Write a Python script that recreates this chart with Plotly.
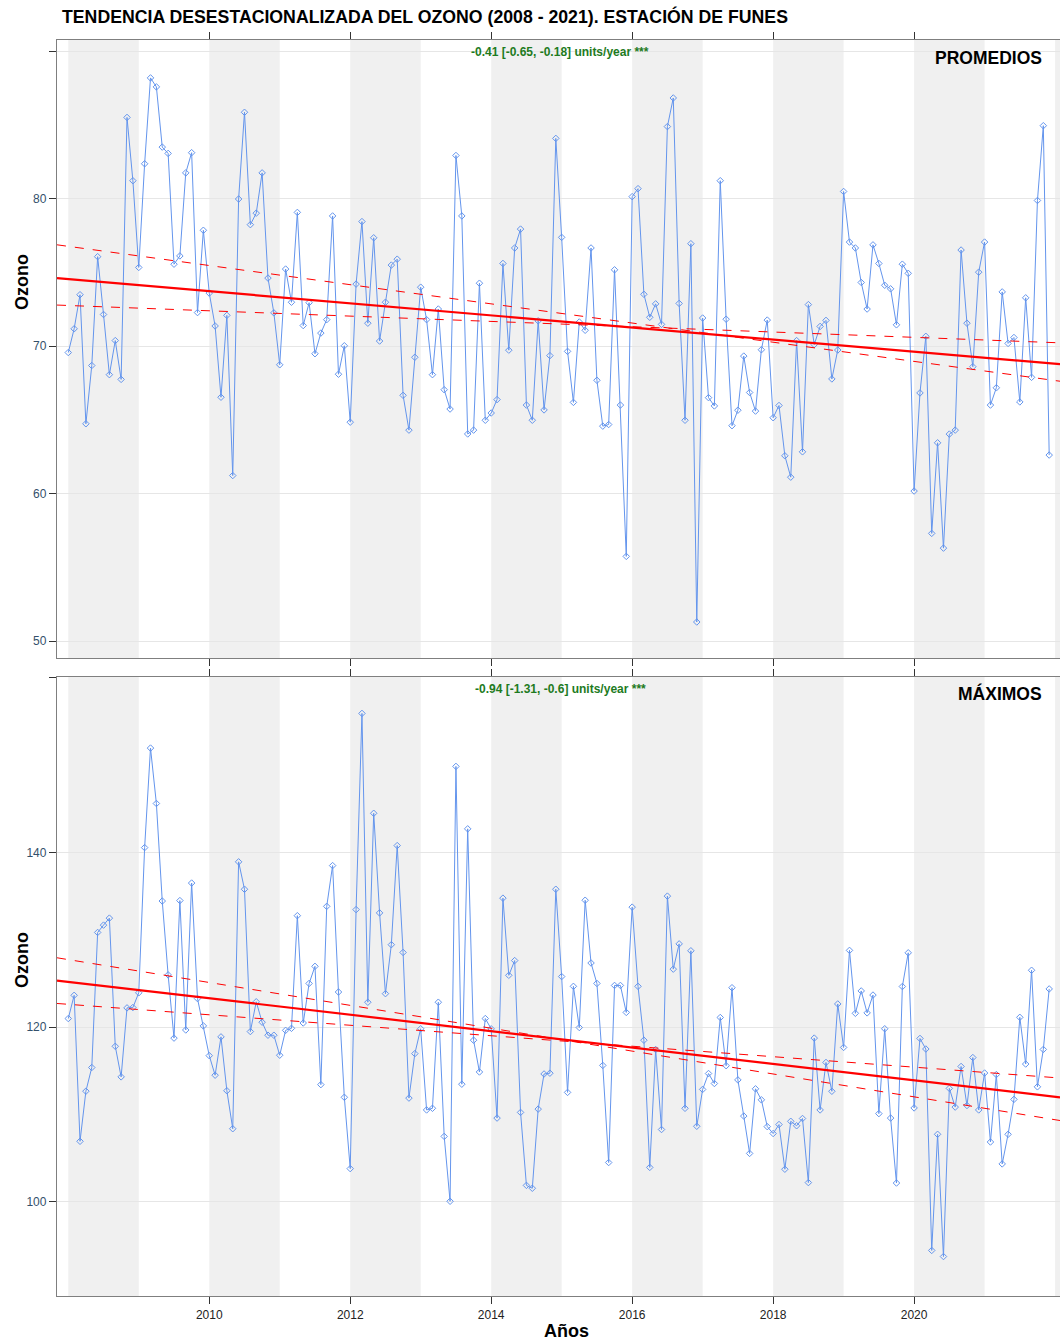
import plotly.graph_objects as go

# ---------------- data ----------------
start_year = 2008
promedios = [
    69.56, 71.17, 73.48, 64.73, 68.68, 76.06, 72.14, 68.06, 70.37, 67.74, 85.5, 81.21,
    75.33, 82.36, 88.18, 87.57, 83.49, 83.06, 75.55, 76.11, 81.74, 83.11, 72.27, 77.85,
    73.59, 71.36, 66.53, 72.08, 61.22, 79.97, 85.85, 78.23, 79.01, 81.74, 74.61, 72.25,
    68.73, 75.22, 72.97, 79.06, 71.39, 72.94, 69.48, 70.88, 71.79, 78.82, 68.09, 70.02,
    64.84, 74.2, 78.44, 71.55, 77.34, 70.34, 72.97, 75.49, 75.89, 66.66, 64.30, 69.24,
    73.99, 71.79, 68.06, 72.51, 67.04, 65.73, 82.92, 78.82, 64.04, 64.30, 74.26, 64.97,
    65.46, 66.37, 75.6, 69.72, 76.65, 77.93, 66.0, 64.97, 71.71, 65.67, 69.35, 84.08,
    77.37, 69.64, 66.18, 71.63, 71.07, 76.65, 67.68, 64.57, 64.68, 75.17, 66.0, 55.74,
    80.13, 80.67, 73.51, 71.95, 72.86, 71.47, 84.88, 86.82, 72.89, 64.97, 76.94, 51.29,
    71.9, 66.5, 65.94, 81.21, 71.82, 64.6, 65.65, 69.32, 66.85, 65.59, 69.75, 71.76,
    65.14, 65.97, 62.56, 61.11, 70.37, 62.83, 72.81, 70.1, 71.33, 71.74, 67.77, 69.73,
    80.48, 77.05, 76.65, 74.31, 72.51, 76.86, 75.6, 74.12, 73.88, 71.44, 75.55, 74.93,
    60.17, 66.82, 70.66, 57.3, 63.44, 56.3, 64.03, 64.3, 76.51, 71.55, 68.6, 75.01,
    77.05, 66.0, 67.17, 73.67, 70.18, 70.58, 66.21, 73.27, 67.88, 79.87, 84.94, 62.61,
]
maximos = [
    120.98, 123.64, 106.92, 112.66, 115.37, 130.84, 131.68, 132.48, 117.8, 114.3, 122.2, 122.24,
    123.93, 140.56, 151.96, 145.61, 134.44, 125.98, 118.74, 134.49, 119.67, 136.5, 123.27, 120.14,
    116.73, 114.49, 118.88, 112.71, 108.36, 138.93, 135.79, 119.49, 122.9, 120.56, 119.07, 119.07,
    116.78, 119.63, 119.86, 132.76, 120.47, 125.0, 126.96, 113.41, 133.83, 138.5, 124.02, 111.96,
    103.79, 133.46, 155.93, 122.85, 144.49, 133.08, 123.83, 129.44, 140.79, 128.55, 111.87, 116.96,
    119.81, 110.51, 110.7, 122.85, 107.48, 100.05, 149.86, 113.46, 142.71, 118.5, 114.86, 120.98,
    119.8, 109.58, 134.77, 125.93, 127.62, 110.23, 101.87, 101.54, 110.61, 114.63, 114.72, 135.79,
    125.79, 112.52, 124.67, 119.95, 134.53, 127.34, 125.0, 115.61, 104.49, 124.77, 124.77, 121.68,
    133.74, 124.67, 118.5, 103.93, 117.43, 108.27, 135.0, 126.64, 129.53, 110.7, 128.74, 108.64,
    112.86, 114.68, 113.54, 121.1, 115.58, 124.51, 113.95, 109.81, 105.53, 112.93, 111.67, 108.6,
    107.81, 108.84, 103.72, 109.21, 108.7, 109.53, 102.19, 118.74, 110.51, 115.95, 112.65, 122.65,
    117.67, 128.79, 121.58, 124.14, 121.63, 123.67, 110.09, 119.81, 109.58, 102.14, 124.65, 128.51,
    110.74, 118.7, 117.49, 94.42, 107.72, 93.72, 112.98, 110.84, 115.49, 111.02, 116.51, 110.51,
    114.74, 106.84, 114.56, 104.33, 107.72, 111.72, 121.12, 115.77, 126.51, 113.16, 117.44, 124.37,
]
# Theil-Sen trend: slope and CI slopes (units/year) with level at reference year
trend_ref_year = 2015.0
prom_trend = {"slope": -0.41, "lo": -0.65, "hi": -0.18,
              "level": 71.67, "level_lo": 72.21, "level_hi": 71.49}
max_trend = {"slope": -0.94, "lo": -1.31, "hi": -0.6,
             "level": 118.6, "level_lo": 118.56, "level_hi": 118.41}
panel_names = ["PROMEDIOS", "MÁXIMOS"]
trend_texts = ["-0.41 [-0.65, -0.18] units/year ***", "-0.94 [-1.31, -0.6] units/year ***"]
band_years = [2008, 2010, 2012, 2014, 2016, 2018, 2020, 2022]
x_ticks = [2010, 2012, 2014, 2016, 2018, 2020]
y_ticks_top = [50, 60, 70, 80, 90]
y_ticks_bot = [100, 120, 140, 160]

# ---------------- figure ----------------
W, H = 1060, 1344
ML, MR, MT, MB = 57, 0, 40, 48
PW, PH = W - ML - MR, H - MT - MB
XR = [2007.84, 2022.07]

def px(x):
    return (x - ML) / PW

def py(y):
    return (H - MB - y) / PH

FONT = "Liberation Sans Narrow, Arial Narrow, Liberation Sans, Arial, sans-serif"
BLUE = "#6495ED"
RED = "#FF0000"

dates = [start_year + i / 12 for i in range(len(promedios))]

fig = go.Figure()

def add_panel(vals, trend, xa, ya):
    fig.add_trace(go.Scatter(x=dates, y=vals, mode="lines+markers",
                             line=dict(color=BLUE, width=1),
                             marker=dict(symbol="diamond-open", size=5, color=BLUE, line=dict(width=1)),
                             xaxis=xa, yaxis=ya, showlegend=False))
    for key_s, key_l, dash, w in [("lo", "level_lo", "dash", 1), ("hi", "level_hi", "dash", 1),
                                  ("slope", "level", "solid", 2.2)]:
        s, l = trend[key_s], trend[key_l]
        fig.add_trace(go.Scatter(x=XR, y=[l + s * (x - trend_ref_year) for x in XR], mode="lines",
                                 line=dict(color=RED, width=w, dash=dash),
                                 xaxis=xa, yaxis=ya, showlegend=False))

add_panel(promedios, prom_trend, "x", "y")
add_panel(maximos, max_trend, "x2", "y2")

top_dom = [py(658), 1.0]
bot_dom = [0.0, py(677)]

common_x = dict(range=XR, showgrid=False, zeroline=False, showline=True, linecolor="#7f7f7f",
                linewidth=1.3, mirror="ticks", ticks="outside", ticklen=7, tickcolor="#333",
                tickvals=x_ticks, ticktext=[str(t) for t in x_ticks],
                tickfont=dict(family=FONT, size=12, color="#222"))
common_y = dict(showgrid=True, gridcolor="#e6e6e6", gridwidth=1, zeroline=False, showline=True,
                linecolor="#7f7f7f", linewidth=1.3, mirror=False, ticks="outside", ticklen=7,
                tickcolor="#333", tickfont=dict(family=FONT, size=12, color="#34506b"))

fig.update_layout(
    width=W, height=H, margin=dict(l=ML, r=MR, t=MT, b=MB),
    paper_bgcolor="white", plot_bgcolor="white",
    xaxis=dict(**common_x, domain=[0, 1], anchor="y", showticklabels=False),
    yaxis=dict(**common_y, domain=top_dom, anchor="x", range=[48.85, 90.75],
               tickvals=y_ticks_top, ticktext=[str(t) if t < 90 else "" for t in y_ticks_top]),
    xaxis2=dict(**common_x, domain=[0, 1], anchor="y2", showticklabels=True),
    yaxis2=dict(**common_y, domain=bot_dom, anchor="x2", range=[89.2, 160.1],
                tickvals=y_ticks_bot, ticktext=[str(t) if t < 160 else "" for t in y_ticks_bot]),
)

# shaded bands
for yref in ["y domain", "y2 domain"]:
    xr = "x" if yref.startswith("y ") else "x2"
    for b in band_years:
        fig.add_shape(type="rect", xref=xr, yref=yref, x0=b, x1=min(b + 1, XR[1]), y0=0, y1=1,
                      fillcolor="#f0f0f0", line=dict(width=0), layer="below")

ann = []
ann.append(dict(text="<b>TENDENCIA DESESTACIONALIZADA DEL OZONO (2008 - 2021). ESTACIÓN DE FUNES</b>",
                x=px(60), y=py(16), xanchor="left", yanchor="middle", showarrow=False,
                font=dict(family=FONT, size=17.7, color="black"), xref="paper", yref="paper"))
for name, txt, ytxt, yname, yoz in [(panel_names[0], trend_texts[0], 52, 58, 282),
                                   (panel_names[1], trend_texts[1], 689, 693, 960)]:
    ann.append(dict(text="<b>" + txt + "</b>", x=px(560), y=py(ytxt), xanchor="center", yanchor="middle",
                    showarrow=False, font=dict(family=FONT, size=12, color="#1e7b1e"),
                    xref="paper", yref="paper"))
    ann.append(dict(text="<b>" + name + "</b>", x=px(1044), y=py(yname), xanchor="right", yanchor="middle",
                    showarrow=False, font=dict(family=FONT, size=17.5, color="black"),
                    xref="paper", yref="paper"))
    ann.append(dict(text="<b>Ozono</b>", x=px(22), y=py(yoz), xanchor="center", yanchor="middle",
                    textangle=-90, showarrow=False, font=dict(family=FONT, size=18, color="black"),
                    xref="paper", yref="paper"))
ann.append(dict(text="<b>Años</b>", x=px(566), y=py(1331), xanchor="center", yanchor="middle",
                showarrow=False, font=dict(family=FONT, size=18, color="black"),
                xref="paper", yref="paper"))
fig.update_layout(annotations=ann)

fig.write_html("out.html", config={"displayModeBar": False})

# remove the default page margin so the figure sits at the window's top-left corner
with open("out.html", "r", encoding="utf-8") as f:
    html = f.read()
html = html.replace("<head>", "<head><style>html,body{margin:0;padding:0;overflow:hidden;}</style>", 1)
with open("out.html", "w", encoding="utf-8") as f:
    f.write(html)
